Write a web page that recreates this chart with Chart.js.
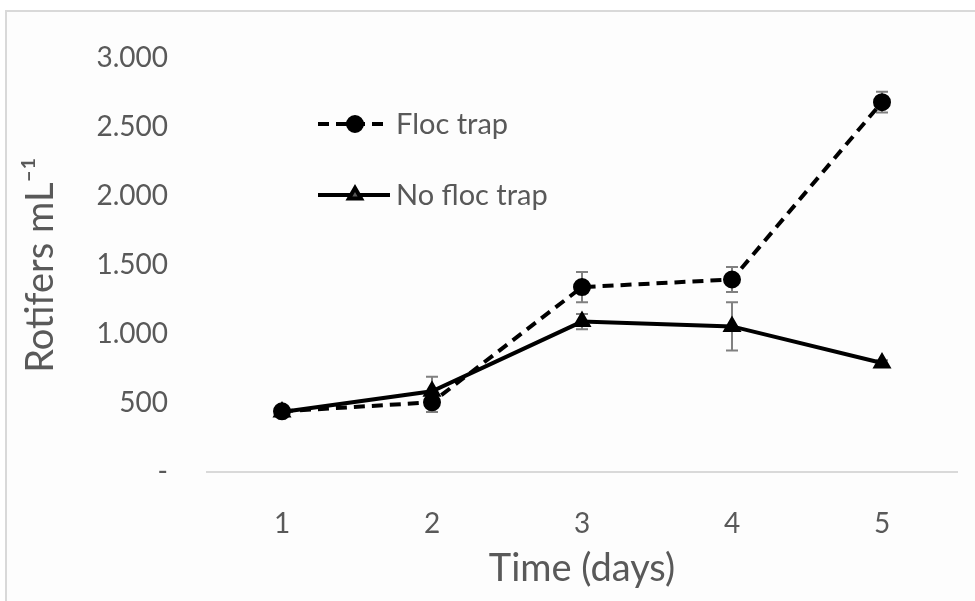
<!DOCTYPE html>
<html>
<head>
<meta charset="utf-8">
<script src="https://cdn.jsdelivr.net/npm/chart.js@4.4.1/dist/chart.umd.min.js"></script>
<style>
html,body{margin:0;padding:0;background:#fff;}
#wrap{width:975px;height:601px;position:relative;}
</style>
</head>
<body>
<div id="wrap"><canvas id="grafico" width="975" height="601"></canvas></div>
<script>

// =============================
// DADOS
// =============================

const dias = ["1","2","3","4","5"];

const flocTrap = [440, 505, 1340, 1395, 2680];
const flocTrapErro = [30, 70, 110, 90, 75];

const noFlocTrap = [435, 585, 1090, 1055, 790];
const noFlocTrapErro = [25, 105, 55, 175, 20];

const yTicks = [0, 500, 1000, 1500, 2000, 2500, 3000];

const corTexto = "#595959";
const fonte = "Lato, 'Open Sans', sans-serif";


// =============================
// PLUGINS
// =============================

function formatarMilhar(v){
if(v === 0) return "-";
return String(v).replace(/\B(?=(\d{3})+(?!\d))/g, ".");
}

// moldura cinza do fundo
const moldura = {
id:"moldura",
beforeDraw(chart){
const ctx = chart.ctx;
ctx.save();
ctx.fillStyle = "#fdfdfd";
ctx.fillRect(6,11,chart.width,chart.height);
ctx.strokeStyle = "#d9d9d9";
ctx.lineWidth = 2;
ctx.strokeRect(6,11,chart.width+10,chart.height+10);
ctx.restore();
}
};

// barras de erro
const barrasErro = {
id:"barrasErro",
beforeDatasetsDraw(chart){
const ctx = chart.ctx;
const y = chart.scales.y;
const erros = [flocTrapErro, noFlocTrapErro];
ctx.save();
ctx.strokeStyle = "#808080";
ctx.lineWidth = 2;
chart.data.datasets.forEach((ds,i)=>{
const meta = chart.getDatasetMeta(i);
meta.data.forEach((p,j)=>{
const v = ds.data[j];
const e = erros[i][j];
const top = y.getPixelForValue(v+e);
const bot = y.getPixelForValue(v-e);
ctx.beginPath();
ctx.moveTo(p.x,top); ctx.lineTo(p.x,bot);
ctx.moveTo(p.x-6,top); ctx.lineTo(p.x+6,top);
ctx.moveTo(p.x-6,bot); ctx.lineTo(p.x+6,bot);
ctx.stroke();
});
});
ctx.restore();
}
};

// legenda dentro do grafico
const legendaInterna = {
id:"legendaInterna",
afterDraw(chart){
const ctx = chart.ctx;
const linhas = [{y:124},{y:195}];
ctx.save();
chart.data.datasets.forEach((ds,i)=>{
const yy = linhas[i].y;
ctx.strokeStyle = ds.borderColor;
ctx.lineWidth = ds.borderWidth;
ctx.setLineDash(ds.borderDash || []);
ctx.beginPath();
ctx.moveTo(318,yy); ctx.lineTo(390,yy);
ctx.stroke();
ctx.setLineDash([]);
Chart.helpers.drawPoint(ctx,{
pointStyle:ds.pointStyle,
radius:ds.pointRadius,
borderWidth:1
},355,yy);
ctx.fillStyle = corTexto;
ctx.font = "29px " + fonte;
ctx.textBaseline = "middle";
ctx.fillText(ds.label,396,yy+1);
});
ctx.restore();
}
};


// =============================
// GRAFICO
// =============================

const ctx = document.getElementById("grafico").getContext("2d");

const chart = new Chart(ctx,{
type:"line",
data:{
labels:dias,
datasets:[{
label:"Floc trap",
data:flocTrap,
borderColor:"#000",
backgroundColor:"#000",
borderWidth:4,
borderDash:[11,7],
pointStyle:"circle",
pointRadius:7,
pointBackgroundColor:"#000",
pointBorderColor:"#000",
tension:0
},{
label:"No floc trap",
data:noFlocTrap,
borderColor:"#000",
backgroundColor:"#000",
borderWidth:4,
pointStyle:"triangle",
pointRadius:7,
pointBackgroundColor:"#000",
pointBorderColor:"#000",
tension:0
}]
},
options:{
responsive:false,
animation:false,
layout:{padding:{top:58,right:18,bottom:0,left:0}},
plugins:{
legend:{display:false},
tooltip:{enabled:false}
},
scales:{
x:{
offset:true,
grid:{display:false},
border:{display:true,color:"#d9d9d9",width:2},
ticks:{color:corTexto,font:{family:fonte,size:28},padding:27},
title:{display:true,text:"Time (days)",color:corTexto,font:{family:fonte,size:38},padding:{top:0,bottom:9}},
afterFit(s){ s.height = 129; }
},
y:{
min:0,
max:3000,
afterBuildTicks(s){ s.ticks = yTicks.map(v=>({value:v})); },
grid:{display:false},
border:{display:false},
ticks:{color:corTexto,font:{family:fonte,size:28},padding:31,callback:(v)=>formatarMilhar(v)},
title:{display:true,text:"Rotifers mL\u207B\u00B9",color:corTexto,font:{family:fonte,size:38},padding:{bottom:0,top:18}},
afterFit(s){ s.width = 207; }
}
}
},
plugins:[moldura,barrasErro,legendaInterna]
});

</script>
</body>
</html>
